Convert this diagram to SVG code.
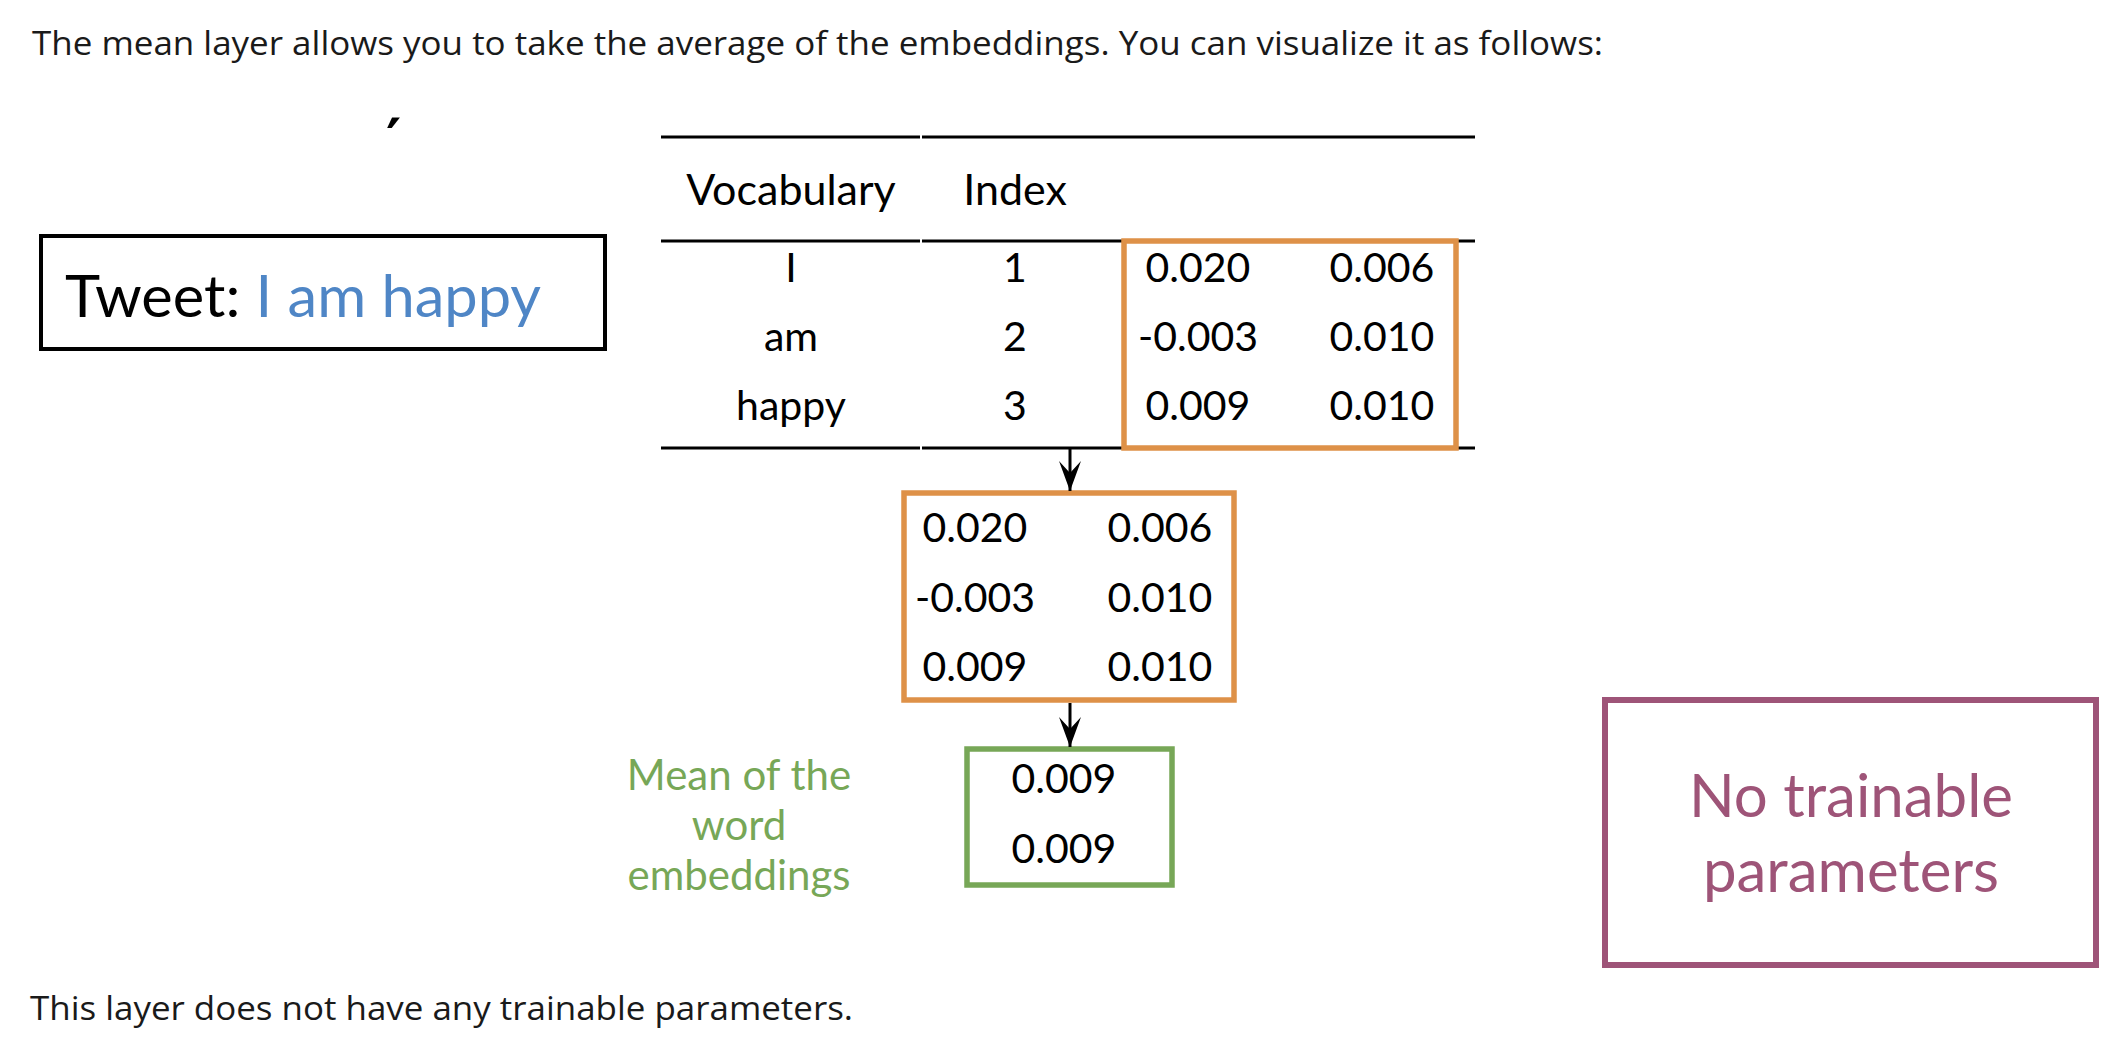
<svg xmlns="http://www.w3.org/2000/svg" width="2126" height="1040" viewBox="0 0 2126 1040">
<style>
  .para { font-family: "Open Sans", "Liberation Sans", sans-serif; font-size: 32px; fill: #1a1a1a; }
  .lato { font-family: Lato, "Liberation Sans", sans-serif; }
  .cell { font-family: Lato, "Liberation Sans", sans-serif; font-size: 41px; fill: #000; text-anchor: middle; }
  .head { font-size: 43px; }
  .glabel { font-size: 42px; fill: #77A757; }
  .ptext { font-family: Lato, "Liberation Sans", sans-serif; font-size: 60px; fill: #9E5478; text-anchor: middle; }
  .rule { stroke: #000; stroke-width: 3; fill: none; }
  .orange { fill: none; stroke: #DE9148; stroke-width: 5.5; }
  .green { fill: none; stroke: #77A757; stroke-width: 5.5; }
  .purple { fill: none; stroke: #9E5478; stroke-width: 6; }
  .black { fill: none; stroke: #000; stroke-width: 4; }
  .conn { stroke: #000; stroke-width: 3; fill: none; }
</style>
<defs>
  <marker id="arrow" viewBox="0 0 30 22" refX="30" refY="11" markerWidth="30" markerHeight="22" markerUnits="userSpaceOnUse" orient="auto">
    <path d="M0,0 L12,11 L0,22 L30,11 Z" fill="#000"/>
  </marker>
</defs>
<rect width="2126" height="1040" fill="#fff"/>

<text class="para" x="32" y="55" textLength="1571" lengthAdjust="spacingAndGlyphs">The mean layer allows you to take the average of the embeddings. You can visualize it as follows:</text>
<text class="para" x="30" y="1020" textLength="823" lengthAdjust="spacingAndGlyphs">This layer does not have any trainable parameters.</text>

<text x="386" y="160" font-family="DejaVu Sans, sans-serif" font-size="58" font-weight="bold" fill="#000">′</text>

<g id="tweet">
  <rect class="black" x="41" y="236" width="564" height="113"/>
  <text class="lato" x="65" y="317" font-size="59" fill="#000" textLength="476" lengthAdjust="spacingAndGlyphs">Tweet: <tspan fill="#4F86C6">I am happy</tspan></text>
</g>

<g id="table">
  <line class="rule" x1="661" y1="137" x2="920" y2="137"/>
  <line class="rule" x1="922" y1="137" x2="1475" y2="137"/>
  <line class="rule" x1="661" y1="241" x2="920" y2="241"/>
  <line class="rule" x1="922" y1="241" x2="1475" y2="241"/>
  <line class="rule" x1="661" y1="448" x2="920" y2="448"/>
  <line class="rule" x1="922" y1="448" x2="1475" y2="448"/>
  <text class="cell head" x="791" y="205">Vocabulary</text>
  <text class="cell head" x="1015" y="205">Index</text>
  <text class="cell" x="791" y="282">I</text>
  <text class="cell" x="1015" y="282">1</text>
  <text class="cell" x="791" y="351">am</text>
  <text class="cell" x="1015" y="351">2</text>
  <text class="cell" x="791" y="420">happy</text>
  <text class="cell" x="1015" y="420">3</text>
</g>

<g id="embeddings">
  <rect class="orange" x="1124" y="241" width="332" height="207"/>
  <text class="cell" x="1198" y="282">0.020</text>
  <text class="cell" x="1382" y="282">0.006</text>
  <text class="cell" x="1198" y="351">-0.003</text>
  <text class="cell" x="1382" y="351">0.010</text>
  <text class="cell" x="1198" y="420">0.009</text>
  <text class="cell" x="1382" y="420">0.010</text>
</g>

<g id="selected">
  <rect class="orange" x="904" y="493" width="330" height="207"/>
  <text class="cell" x="975" y="542">0.020</text>
  <text class="cell" x="1160" y="542">0.006</text>
  <text class="cell" x="975" y="612">-0.003</text>
  <text class="cell" x="1160" y="612">0.010</text>
  <text class="cell" x="975" y="681">0.009</text>
  <text class="cell" x="1160" y="681">0.010</text>
</g>

<g id="mean">
  <rect class="green" x="967" y="749" width="205" height="136"/>
  <text class="cell" x="1064" y="793">0.009</text>
  <text class="cell" x="1064" y="863">0.009</text>
</g>

<g id="mean-label">
  <text class="cell glabel" x="739" y="790">Mean of the</text>
  <text class="cell glabel" x="739" y="840">word</text>
  <text class="cell glabel" x="739" y="890">embeddings</text>
</g>

<g id="no-params">
  <rect class="purple" x="1605" y="700" width="491" height="265"/>
  <text class="ptext" x="1851" y="817">No trainable</text>
  <text class="ptext" x="1851" y="892">parameters</text>
</g>

<g id="connectors">
  <line class="conn" x1="1070" y1="449" x2="1070" y2="491" marker-end="url(#arrow)"/>
  <line class="conn" x1="1070" y1="703" x2="1070" y2="747" marker-end="url(#arrow)"/>
</g>
</svg>
